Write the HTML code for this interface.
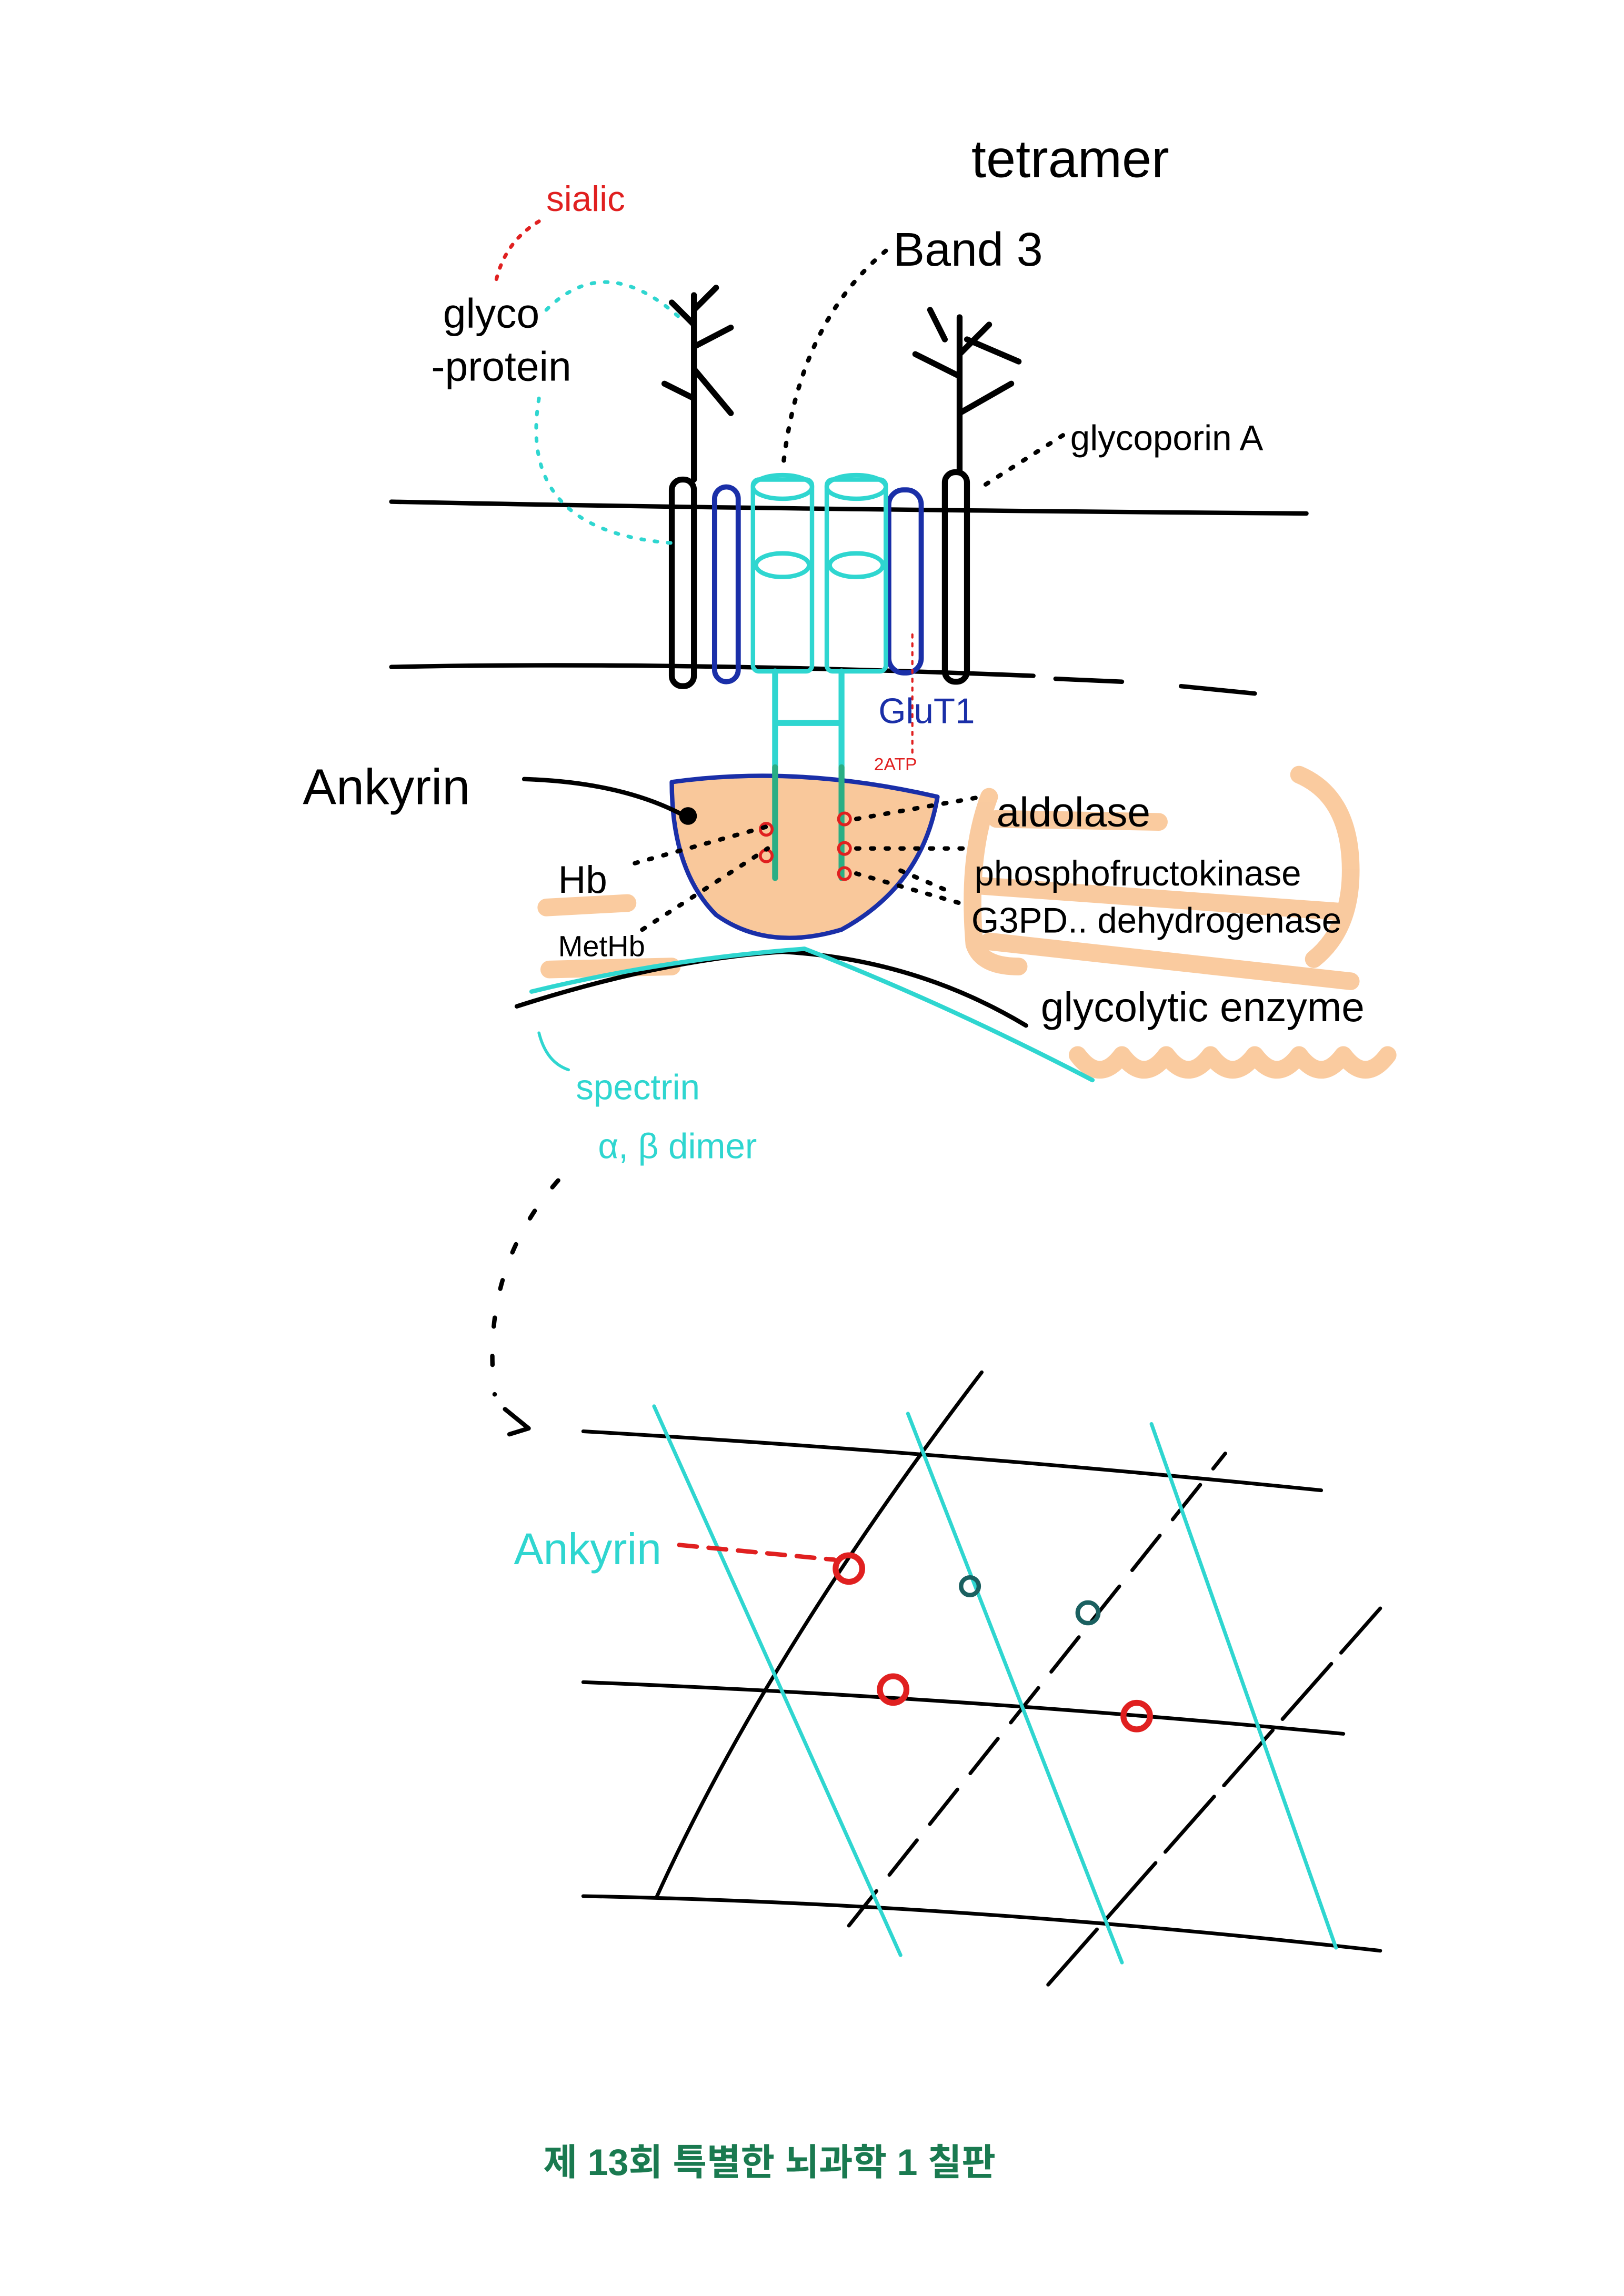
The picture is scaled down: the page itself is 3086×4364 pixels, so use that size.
<!DOCTYPE html>
<html><head><meta charset="utf-8"><style>
html,body{margin:0;padding:0;background:#fff}
svg{display:block}
text{font-family:"Liberation Sans","Noto Sans CJK KR",sans-serif}
</style></head><body>
<svg width="3086" height="4364" viewBox="0 0 1100 1556" xmlns="http://www.w3.org/2000/svg" fill="none" stroke-linecap="round" stroke-linejoin="round">
<!-- orange highlights -->
<g stroke="#f9c595" stroke-width="12" opacity="0.9">
<path d="M670 540 Q655 580 660 640 Q665 655 690 655"/>
<path d="M880 525 Q915 540 915 590 Q915 630 890 650"/>
<path d="M675 555 L785 557"/>
<path d="M660 600 L910 618"/>
<path d="M670 638 L915 665"/>
<path d="M730 715 q15 20 30 0 q15 20 30 0 q15 20 30 0 q15 20 30 0 q15 20 30 0 q15 20 30 0 q15 20 30 0"/>
<path d="M370 615 L425 612"/>
<path d="M372 657 L455 655"/>
</g>
<!-- membrane -->
<g stroke="#000" stroke-width="3">
<path d="M265 340 Q500 345 885 348"/>
<path d="M265 452 Q450 448 700 458 M715 460 L760 462 M800 465 L850 470"/>
</g>
<!-- glycophorins -->
<g stroke="#000" stroke-width="4">
<rect x="455" y="325" width="15" height="140" rx="7"/>
<rect x="640" y="320" width="15" height="142" rx="7"/>
<path d="M470 325 L470 200 M470 270 L450 260 M470 250 L495 280 M470 235 L495 222 M470 220 L455 205 M470 210 L485 195"/>
<path d="M650 320 L650 215 M650 280 L685 260 M650 255 L620 240 M650 240 L670 220 M655 230 L690 245 M640 230 L630 210"/>
</g>
<g stroke="#1a2fa8" stroke-width="3.5">
<rect x="484" y="330" width="16" height="132" rx="8"/>
<rect x="602" y="332" width="22" height="124" rx="10"/>
</g>
<!-- band 3 cylinders -->
<g stroke="#2fd6d0" stroke-width="3">
<rect x="510" y="325" width="40" height="130" rx="4"/>
<rect x="560" y="325" width="40" height="130" rx="4"/>
<ellipse cx="530" cy="330" rx="20" ry="8"/>
<ellipse cx="580" cy="330" rx="20" ry="8"/>
<ellipse cx="530" cy="383" rx="18" ry="8"/>
<ellipse cx="580" cy="383" rx="18" ry="8"/>
<path d="M525 455 L525 530 M570 455 L570 530 M525 490 L570 490" stroke-width="4"/>
</g>
<!-- ankyrin blob -->
<path d="M455 530 Q540 518 635 540 Q625 600 570 630 Q520 645 485 620 Q455 590 455 530 Z" fill="#f9c89b" stroke="#1a2fa8" stroke-width="3"/>
<g stroke="#2aae84" stroke-width="4"><path d="M525 520 L525 595 M570 520 L570 595"/></g>
<g stroke="#e02020" stroke-width="2"><circle cx="519" cy="562" r="4"/><circle cx="519" cy="580" r="4"/><circle cx="572" cy="555" r="4"/><circle cx="572" cy="575" r="4"/><circle cx="572" cy="592" r="4"/></g>
<circle cx="466" cy="553" r="6" fill="#000"/>
<path d="M355 528 Q420 530 462 552" stroke="#000" stroke-width="3"/>
<!-- dotted leaders -->
<g stroke="#000" stroke-width="3" stroke-dasharray="2 8">
<path d="M430 585 L520 560 M435 630 L520 575 M580 555 L665 540 M580 575 L655 575 M580 592 L650 612 M610 590 L645 605"/>
<path d="M600 170 Q540 220 530 320"/>
<path d="M720 295 L665 330"/>
</g>
<g stroke="#2fd6d0" stroke-width="2.5" stroke-dasharray="2 7">
<path d="M370 210 Q410 170 460 215"/>
<path d="M365 270 Q350 360 455 368"/>
</g>
<path d="M365 150 Q340 165 335 195" stroke="#e02020" stroke-width="2.5" stroke-dasharray="2 6"/>
<path d="M618 430 L618 510" stroke="#e02020" stroke-width="1.5" stroke-dasharray="2 4"/>
<!-- spectrin -->
<path d="M350 682 Q450 650 530 645 Q620 650 695 695" stroke="#000" stroke-width="3"/>
<path d="M360 672 Q450 650 545 643 Q640 680 740 732" stroke="#2fd6d0" stroke-width="3"/>
<path d="M365 700 Q370 720 385 725" stroke="#2fd6d0" stroke-width="2"/>
<!-- texts -->
<g fill="#000" font-size="32"><text x="658" y="120" font-size="36">tetramer</text><text x="605" y="180" font-size="32">Band 3</text>
<text x="300" y="222" font-size="28">glyco</text><text x="292" y="258" font-size="28">-protein</text>
<text x="725" y="305" font-size="24">glycoporin A</text>
<text x="205" y="545" font-size="34">Ankyrin</text>
<text x="675" y="560" font-size="28">aldolase</text>
<text x="660" y="600" font-size="24">phosphofructokinase</text>
<text x="658" y="632" font-size="24">G3PD.. dehydrogenase</text>
<text x="705" y="692" font-size="28">glycolytic enzyme</text>
<text x="378" y="605" font-size="26">Hb</text>
<text x="378" y="648" font-size="20">MetHb</text></g>
<text x="370" y="143" fill="#e02020" font-size="24">sialic</text>
<text x="595" y="490" fill="#1a2fa8" font-size="24">GluT1</text>
<text x="592" y="522" fill="#e02020" font-size="12">2ATP</text>
<text x="390" y="745" fill="#2fd6d0" font-size="24">spectrin</text>
<text x="405" y="785" fill="#2fd6d0" font-size="24">α, β dimer</text>
<text x="348" y="1060" fill="#2fd6d0" font-size="30">Ankyrin</text>
<!-- curved dashed arrow -->
<path d="M378 800 Q325 860 335 945" stroke="#000" stroke-width="3" stroke-dasharray="6 20"/>
<path d="M342 955 L358 968 L345 972" stroke="#000" stroke-width="3"/>
<!-- lattice -->
<g stroke="#000" stroke-width="2.5">
<path d="M395 970 Q650 985 895 1010"/>
<path d="M395 1140 Q650 1150 910 1175"/>
<path d="M395 1285 Q650 1290 935 1322"/>
<path d="M445 1285 Q520 1120 665 930"/>
<path d="M575 1305 L830 985" stroke-dasharray="30 14"/>
<path d="M710 1345 L935 1090" stroke-dasharray="50 10"/>
</g>
<g stroke="#2fd6d0" stroke-width="2.5">
<path d="M443 953 L610 1325"/>
<path d="M615 958 L760 1330"/>
<path d="M780 965 L905 1320"/>
</g>
<path d="M460 1047 L565 1057" stroke="#e02020" stroke-width="3" stroke-dasharray="12 8"/>
<g stroke="#e02020" stroke-width="4"><circle cx="575" cy="1063" r="9"/><circle cx="605" cy="1145" r="9"/><circle cx="770" cy="1163" r="9"/></g>
<g stroke="#1a6060" stroke-width="3"><circle cx="657" cy="1075" r="6"/><circle cx="737" cy="1093" r="7"/></g>
<text x="368" y="1474" fill="#1a7a50" font-size="25" font-weight="bold" stroke="none">제 13회 특별한 뇌과학 1 칠판</text>
</svg>
</body></html>
